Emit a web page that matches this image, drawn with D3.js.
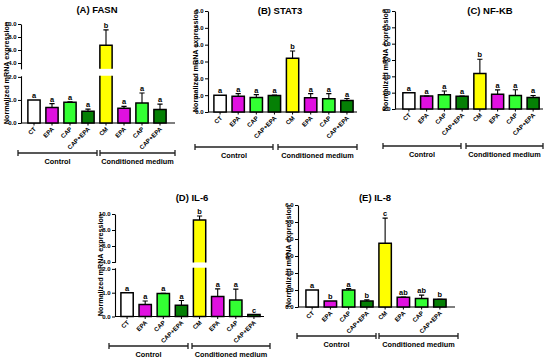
<!DOCTYPE html>
<html>
<head>
<meta charset="utf-8">
<script src="https://cdn.jsdelivr.net/npm/d3@7"></script>
<style>
  body { margin: 0; background: #fff; }
  text { font-family: "Liberation Sans", Arial, sans-serif; font-weight: bold; fill: #000; }
</style>
</head>
<body>
<svg id="chart" width="550" height="363"></svg>
<script>
// categories and groups
const labels = ["CT", "EPA", "CAP", "CAP+EPA", "CM", "EPA", "CAP", "CAP+EPA"];
const groupNames = ["Control", "Conditioned medium"];
const barColors = ["#ffffff", "#e010e0", "#33ff33", "#058005", "#ffff00", "#e010e0", "#33ff33", "#058005"];
const yLabel = "Normalized mRNA expression";

// values (mean, SD above the bar, letters)
const fasnMean = [1.0, 0.67, 0.9, 0.51, 6.75, 0.64, 0.87, 0.59];
const fasnSD   = [0, 0.17, 0.02, 0.09, 2.35, 0.08, 0.43, 0.23];
const fasnSig  = ["a", "a", "a", "a", "b", "a", "a", "a"];

const stat3Mean = [1.0, 0.94, 0.86, 0.98, 3.2, 0.84, 0.78, 0.69];
const stat3SD   = [0, 0.15, 0.17, 0.02, 0.42, 0.25, 0.31, 0.11];
const stat3Sig  = ["a", "a", "a", "a", "b", "a", "a", "a"];

const nfkbMean = [1.0, 0.79, 0.88, 0.78, 2.17, 0.9, 0.82, 0.71];
const nfkbSD   = [0, 0.01, 0.22, 0.01, 0.88, 0.27, 0.36, 0.12];
const nfkbSig  = ["a", "a", "a", "a", "b", "a", "a", "a"];

const il6Mean = [1.0, 0.5, 0.97, 0.47, 9.25, 0.84, 0.69, 0.08];
const il6SD   = [0, 0.15, 0.01, 0.2, 0.5, 0.32, 0.46, 0];
const il6Sig  = ["a", "a", "a", "a", "b", "a", "a", "c"];

const il8Mean = [1.0, 0.35, 1.0, 0.35, 3.75, 0.57, 0.5, 0.45];
const il8SD   = [0, 0, 0.08, 0.07, 1.48, 0.02, 0.2, 0.01];
const il8Sig  = ["a", "b", "a", "b", "c", "ab", "ab", "b"];

const linearTicks = [0, 1, 2, 3, 4, 5, 6];
const lowTicks = [0, 1, 2];
const highTicks = [4, 6, 8, 10];

// layout of each panel
const panels = [
  { title: "(A) FASN", mean: fasnMean, sd: fasnSD, sig: fasnSig,
    titleX: 97, titleY: 13, axisX: 21, xRange: [25, 169], axisEnd: 175,
    broken: true, lo: [0, 2.05], loRange: [123, 76.9 - 0.05 * 23], hi: [3.1, 10], hiRange: [63, 24],
    labelX: 8.5, labelY: 73, bracketY: 153, brackets: [[18, 97], [100, 175]] },
  { title: "(B) STAT3", mean: stat3Mean, sd: stat3SD, sig: stat3Sig,
    titleX: 280, titleY: 14, axisX: 208, xRange: [211, 356], axisEnd: 357,
    broken: false, range: [112, 11],
    labelX: 197.5, labelY: 61, bracketY: 147, brackets: [[195, 273], [278, 357]] },
  { title: "(C) NF-KB", mean: nfkbMean, sd: nfkbSD, sig: nfkbSig,
    titleX: 490, titleY: 14, axisX: 395, xRange: [400, 542], axisEnd: 543,
    broken: false, range: [109, 11],
    labelX: 387.5, labelY: 60, bracketY: 146, brackets: [[383, 461], [466, 543]] },
  { title: "(D) IL-6", mean: il6Mean, sd: il6SD, sig: il6Sig,
    titleX: 192, titleY: 201, axisX: 115, xRange: [118, 263], axisEnd: 264,
    broken: true, lo: [0, 2.05], loRange: [316.5, 268.9 - 0.05 * 23.8], hi: [3.95, 10], hiRange: [262, 214],
    labelX: 102.5, labelY: 265, bracketY: 346, brackets: [[109, 188], [192, 270]] },
  { title: "(E) IL-8", mean: il8Mean, sd: il8SD, sig: il8Sig,
    titleX: 375, titleY: 201, axisX: 298, xRange: [303, 449], axisEnd: 455,
    broken: false, range: [307, 205],
    labelX: 290.5, labelY: 256, bracketY: 336, brackets: [[297, 376], [379, 458]] }
];

const svg = d3.select("#chart");
svg.append("rect").attr("width", 550).attr("height", 363).attr("fill", "#fff");

panels.forEach(drawPanel);

function drawPanel(p) {
  const g = svg.append("g");

  const x = d3.scaleBand()
    .domain(d3.range(labels.length))
    .range(p.xRange)
    .paddingInner(0.32)
    .paddingOuter(0.16);

  // one or two y segments
  let segs;
  if (p.broken) {
    const loScale = d3.scaleLinear().domain([0, 2]).range([p.loRange[0], p.loRange[0] + (p.loRange[1] - p.loRange[0]) * 2 / 2.05]);
    const hiScale = d3.scaleLinear().domain([4, 10]).range([p.hiRange[0], p.hiRange[1]]);
    segs = [
      { scale: loScale.copy().domain(p.lo).range(p.lo.map(loScale)), ticks: lowTicks },
      { scale: hiScale.copy().domain(p.hi).range(p.hi.map(hiScale)), ticks: highTicks }
    ];
  } else {
    segs = [{ scale: d3.scaleLinear().domain([0, 6]).range(p.range), ticks: linearTicks }];
  }

  function yPix(v) {
    const s = segs.find(s => v <= s.scale.domain()[1]) || segs[segs.length - 1];
    return s.scale(v);
  }
  const y0 = yPix(0);

  // y axis segments
  segs.forEach(s => {
    const ax = g.append("g")
      .attr("transform", `translate(${p.axisX},0)`)
      .call(d3.axisLeft(s.scale).tickValues(s.ticks).tickSize(3).tickSizeOuter(0).tickPadding(1.5));
    ax.select(".domain").attr("stroke-width", 1.1);
    ax.selectAll(".tick line").attr("stroke-width", 1);
    ax.selectAll("text").attr("font-size", 6).attr("font-family", null);
  });

  // x axis
  g.append("line")
    .attr("x1", p.axisX).attr("x2", p.axisEnd)
    .attr("y1", y0).attr("y2", y0)
    .attr("stroke", "#000").attr("stroke-width", 1.1);
  const xa = g.append("g")
    .attr("transform", `translate(0,${y0})`)
    .call(d3.axisBottom(x).tickSize(2.5).tickFormat(""));
  xa.select(".domain").remove();

  g.selectAll(".xlab")
    .data(labels)
    .join("text")
    .attr("class", "xlab")
    .attr("font-size", 6.2)
    .attr("text-anchor", "end")
    .attr("transform", (d, i) => `translate(${x(i) + x.bandwidth() / 2 + 2.5},${y0 + 6.5}) rotate(-45)`)
    .text(d => d);

  // bars, split at the axis break
  const bw = x.bandwidth();
  p.mean.forEach((v, i) => {
    const bx = x(i);
    segs.forEach(s => {
      const [d0, d1] = s.scale.domain();
      const lo = Math.max(0, d0), hi = Math.min(v, d1);
      if (hi <= lo) return;
      const yt = s.scale(hi), yb = s.scale(lo);
      g.append("rect")
        .attr("x", bx).attr("y", yt)
        .attr("width", bw).attr("height", yb - yt)
        .attr("fill", barColors[i]);
      let path = `M${bx},${yb}V${yt}M${bx + bw},${yt}V${yb}`;
      if (v <= d1) path += `M${bx - 0.7},${yt}H${bx + bw + 0.7}`;
      if (lo === 0) path += `M${bx - 0.7},${yb}H${bx + bw + 0.7}`;
      g.append("path").attr("d", path)
        .attr("fill", "none").attr("stroke", "#000").attr("stroke-width", 1.5);
    });
  });

  // error bars
  p.mean.forEach((v, i) => {
    if (!p.sd[i]) return;
    const cx = x(i) + bw / 2;
    const top = yPix(v + p.sd[i]);
    g.append("path")
      .attr("d", `M${cx},${yPix(v)}V${top}M${cx - 2.6},${top}H${cx + 2.6}`)
      .attr("fill", "none").attr("stroke", "#000").attr("stroke-width", 1.1);
  });

  // letters
  g.selectAll(".sig")
    .data(p.sig)
    .join("text")
    .attr("class", "sig")
    .attr("font-size", 7.4)
    .attr("text-anchor", "middle")
    .attr("x", (d, i) => x(i) + bw / 2)
    .attr("y", (d, i) => yPix(p.mean[i] + p.sd[i]) - 2)
    .text(d => d);

  // title and y label
  g.append("text")
    .attr("x", p.titleX).attr("y", p.titleY)
    .attr("text-anchor", "middle").attr("font-size", 9.5)
    .text(p.title);
  g.append("text")
    .attr("transform", `translate(${p.labelX},${p.labelY}) rotate(-90)`)
    .attr("text-anchor", "middle").attr("font-size", 7.2)
    .text(yLabel);

  // group brackets
  p.brackets.forEach((b, k) => {
    g.append("path")
      .attr("d", `M${b[0]},${p.bracketY - 3}V${p.bracketY + 3}M${b[0]},${p.bracketY}H${b[1]}M${b[1]},${p.bracketY - 3}V${p.bracketY + 3}`)
      .attr("fill", "none").attr("stroke", "#222").attr("stroke-width", 1.3);
    g.append("text")
      .attr("x", (b[0] + b[1]) / 2).attr("y", p.bracketY + 10.5)
      .attr("text-anchor", "middle").attr("font-size", 7.3)
      .text(groupNames[k]);
  });
}
</script>
</body>
</html>
